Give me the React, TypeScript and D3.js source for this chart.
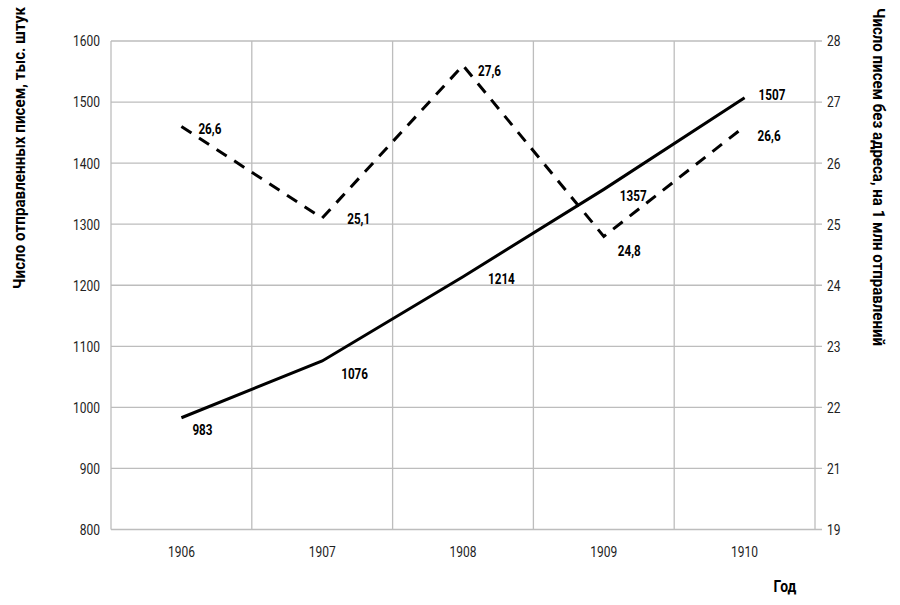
import React, { useLayoutEffect, useRef, useState } from "react";
import * as d3 from "d3";

const years = ["1906", "1907", "1908", "1909", "1910"];
const letters = [983, 1076, 1214, 1357, 1507];
const noAddress = [26.6, 25.1, 27.6, 24.8, 26.6];
const noAddressLabels = ["26,6", "25,1", "27,6", "24,8", "26,6"];
const leftTicks = [800, 900, 1000, 1100, 1200, 1300, 1400, 1500, 1600];
const rightTicks = [20, 21, 22, 23, 24, 25, 26, 27, 28];
const rightTickLabels = ["19", "21", "22", "23", "24", "25", "26", "27", "28"];

const leftTitle = "Число отправленных писем, тыс. штук";
const rightTitle = "Число писем без адреса, на 1 млн отправлений";
const xTitle = "Год";

// label offsets (dx, dy of baseline) relative to the point
const lettersLabelOffset: [number, number][] = [
  [11, 12],
  [19, 13],
  [25, 2],
  [16, 6],
  [14, -3],
];
const noAddressLabelOffset: [number, number][] = [
  [17, 2],
  [25, 1],
  [15, 5],
  [14, 14],
  [13, 9],
];

const W = 900;
const H = 605;
const M = { left: 111, right: 85, top: 41, bottom: 75.5 };
const FONT = "Roboto, 'Liberation Sans', sans-serif";
const SX = 0.8;

function T(props: {
  x: number;
  y: number;
  anchor?: "start" | "middle" | "end";
  size?: number;
  bold?: boolean;
  sx?: number;
  fill?: string;
  children: React.ReactNode;
}) {
  const { x, y, anchor = "start", size = 15, bold = false, sx = SX, fill = "#222", children } = props;
  return (
    <g transform={`translate(${x},${y}) scale(${sx},1)`}>
      <text
        x={0}
        y={0}
        dy="0.36em"
        textAnchor={anchor}
        fontSize={size}
        fontWeight={bold ? "bold" : "normal"}
        fill={fill}
      >
        {children}
      </text>
    </g>
  );
}

function FitTitle(props: { x: number; y: number; angle: number; length: number; text: string }) {
  const ref = useRef<SVGTextElement>(null);
  const [s, setS] = useState(0.85);
  useLayoutEffect(() => {
    if (ref.current) {
      const w = ref.current.getComputedTextLength();
      if (w > 0) setS(props.length / w);
    }
  }, [props.text, props.length]);
  return (
    <g transform={`translate(${props.x},${props.y}) rotate(${props.angle}) scale(${s},1)`}>
      <text ref={ref} dy="0.36em" textAnchor="start" fontSize={17} fontWeight="bold" fill="#000">
        {props.text}
      </text>
    </g>
  );
}

export default function App() {
  const x = d3
    .scaleBand<string>()
    .domain(years)
    .range([M.left, W - M.right])
    .paddingInner(0)
    .paddingOuter(0);
  const yL = d3.scaleLinear().domain([800, 1600]).range([H - M.bottom, M.top]);
  const yR = d3.scaleLinear().domain([20, 28]).range([H - M.bottom, M.top]);
  const cx = (i: number) => (x(years[i]) as number) + x.bandwidth() / 2;

  const solid = d3
    .line<number>()
    .x((_, i) => cx(i))
    .y((d) => yL(d))(letters) as string;
  const dashed = d3
    .line<number>()
    .x((_, i) => cx(i))
    .y((d) => yR(d))(noAddress) as string;

  const x0 = M.left;
  const x1 = W - M.right;
  const grid = "#bdbdbd";

  return (
    <svg
      width={W}
      height={H}
      style={{ position: "absolute", left: 0, top: 0, background: "#fff" }}
      fontFamily={FONT}
    >
      <rect x={0} y={0} width={W} height={H} fill="#fff" />
      {leftTicks.map((t) => (
        <line key={"h" + t} x1={x0} x2={x1 + 7} y1={yL(t)} y2={yL(t)} stroke={grid} strokeWidth={1.3} />
      ))}
      {years.map((y) => (
        <line
          key={"v" + y}
          x1={x(y) as number}
          x2={x(y) as number}
          y1={M.top}
          y2={H - M.bottom}
          stroke={grid}
          strokeWidth={1.3}
        />
      ))}
      <line x1={x1} x2={x1} y1={M.top} y2={H - M.bottom} stroke={grid} strokeWidth={1.3} />
      {leftTicks.map((t) => (
        <T key={"lt" + t} x={x0 - 11} y={yL(t)} anchor="end">
          {t}
        </T>
      ))}
      {rightTicks.map((t, i) => (
        <T key={"rt" + t} x={x1 + 12} y={yR(t)} anchor="start">
          {rightTickLabels[i]}
        </T>
      ))}
      {years.map((y, i) => (
        <T key={"xt" + y} x={cx(i)} y={H - M.bottom + 22} anchor="middle">
          {y}
        </T>
      ))}
      <path d={solid} fill="none" stroke="#000" strokeWidth={3} />
      <path d={dashed} fill="none" stroke="#000" strokeWidth={3} strokeDasharray="12 9" />
      {letters.map((v, i) => (
        <T
          key={"ll" + i}
          x={cx(i) + lettersLabelOffset[i][0]}
          y={yL(v) + lettersLabelOffset[i][1]}
          bold
          sx={0.78}
          fill="#000"
        >
          {v}
        </T>
      ))}
      {noAddress.map((v, i) => (
        <T
          key={"nl" + i}
          x={cx(i) + noAddressLabelOffset[i][0]}
          y={yR(v) + noAddressLabelOffset[i][1]}
          bold
          sx={0.78}
          fill="#000"
        >
          {noAddressLabels[i]}
        </T>
      ))}
      <FitTitle x={19} y={289} angle={-90} length={282} text={leftTitle} />
      <FitTitle x={879} y={8} angle={90} length={338} text={rightTitle} />
      <T x={785} y={586} anchor="middle" size={17} bold sx={0.82} fill="#000">
        {xTitle}
      </T>
    </svg>
  );
}
